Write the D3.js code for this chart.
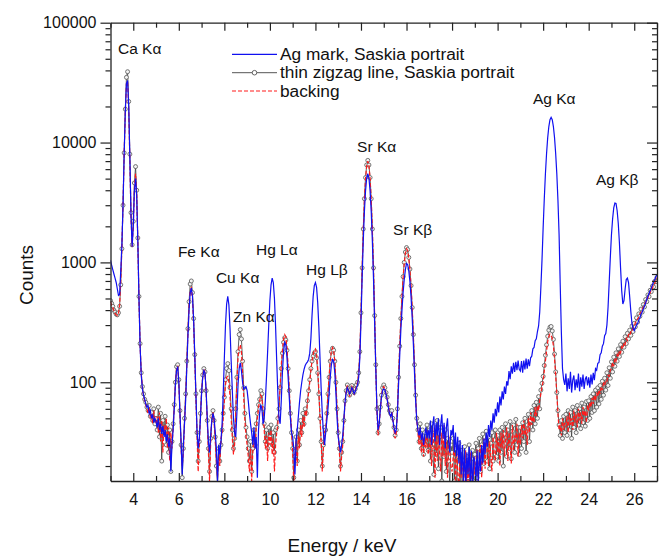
<!DOCTYPE html>
<html><head><meta charset="utf-8">
<script src="https://cdn.jsdelivr.net/npm/d3@7"></script>
<style>body{margin:0;background:#fff}svg{display:block}text{font-family:"Liberation Sans",Arial,Helvetica,sans-serif}</style>
</head><body>
<svg id="chart" width="659" height="556"></svg>
<script>
// ---------- data (channel grid: 3.00 keV, step 0.05 keV) ----------
const energyStart = 3, energyStep = 0.05;

const agMark = [
1040,950,870,800,740,680,600,530,540,850,1400,3000,8000,18000,31000,33000,20000,7500,2500,1350,
2000,4000,5000,3600,1500,500,200,115,88,78,72,66,62,64,55,58,50,54,46,50,
47,42,50,40,45,37,43,35,40,32,37,29,34,18,30,40,60,95,125,135,
100,55,32,17,30,45,70,130,240,400,560,610,520,330,170,80,40,28,34,50,
80,110,125,120,85,50,32,26,36,48,55,50,38,28,15,30,25,32,45,80,
160,300,450,520,440,280,150,85,50,38,35,55,95,130,145,125,100,88,90,92,
85,70,55,45,38,30,42,28,35,16,40,55,65,60,45,50,70,110,180,300,
480,650,740,680,500,290,150,80,50,45,70,120,180,215,205,160,110,75,50,38,
35,28,17,32,40,52,68,85,100,115,128,138,144,148,155,175,230,360,520,640,
680,620,460,290,160,90,55,38,30,38,48,60,80,110,140,155,150,120,80,50,
35,30,26,30,36,50,68,82,90,86,80,84,90,86,80,84,90,95,110,160,
320,730,1500,2650,3950,5050,5500,5050,3950,2650,1500,730,310,130,60,40,45,60,75,85,
88,86,80,72,62,55,52,55,48,42,38,40,55,95,165,270,400,560,720,870,
980,960,850,690,510,340,210,120,70,48,40,36,42,33,38,30,36,42,34,40,
34,48,30,44,52,32,46,36,50,30,44,54,34,46,28,42,50,32,26,40,
36,44,26,38,24,35,21,33,17,30,15,28,13,26,17,29,14,27,12,24,
22,15,27,14,26,18,30,21,34,25,38,29,44,35,48,40,55,46,60,52,
68,56,76,64,84,72,92,80,102,94,124,106,136,118,145,122,148,126,152,128,
124,150,120,152,128,158,130,155,136,160,165,190,195,222,230,265,295,385,620,1050,
1950,3400,5500,8100,11000,13600,15500,16200,15500,13600,11000,8100,5500,3300,1700,650,260,130,105,95,
118,84,108,88,122,82,104,114,86,106,90,118,84,110,92,116,88,106,112,94,
110,90,116,96,120,104,130,126,144,146,170,176,200,210,245,255,300,420,680,1100,
1700,2300,2850,3130,3100,2700,2100,1450,900,580,450,480,600,720,740,680,520,390,310,280,
270,285,300,310,330,345,370,385,410,430,460,490,520,550,580,610,650,690,720,760,
790];

const zigzag = [
480,455,430,400,385,370,365,380,430,650,1300,3000,8200,19000,35000,39000,22000,8000,2600,1400,
2200,4600,6300,4000,1600,520,210,120,92,80,72,68,62,58,64,52,56,48,60,45,
50,40,62,35,55,22,48,38,52,30,44,26,40,18,32,45,65,100,135,140,
105,58,30,16,28,50,80,150,280,470,660,700,560,340,170,80,38,22,32,55,
85,115,130,122,85,48,28,18,34,52,58,48,35,20,14,28,22,30,40,55,
75,105,130,143,125,90,60,40,28,34,60,110,180,250,275,230,150,90,55,42,
35,28,22,32,18,28,40,30,45,55,65,72,85,80,60,45,32,40,28,42,
35,44,30,38,26,40,42,50,60,90,130,175,215,235,225,185,130,85,55,38,
28,16,24,35,22,40,30,48,38,55,45,60,55,70,85,105,130,150,165,175,
180,160,120,80,50,32,20,30,42,40,55,80,110,150,180,192,185,150,100,60,
38,28,20,26,32,48,70,85,95,88,78,86,94,88,82,88,95,100,120,180,
380,900,1900,3400,5100,6500,7100,6500,5100,3400,1900,900,360,140,60,38,45,62,78,90,
95,90,82,75,65,58,55,58,50,42,36,40,60,110,200,340,520,760,1000,1220,
1330,1280,1100,880,640,420,250,140,78,50,40,32,45,28,40,25,38,30,44,27,
40,22,45,28,17,38,25,48,19,35,42,15,33,24,40,18,34,22,14,30,
26,34,15,28,12,24,31,14,27,11,22,29,13,24,16,30,12,23,27,15,
25,31,16,28,34,18,30,37,21,32,39,22,35,19,31,38,22,33,40,24,
36,22,40,26,42,20,37,45,24,40,28,47,23,39,44,26,49,30,42,25,
42,28,46,32,50,26,44,54,32,48,58,40,64,45,68,50,76,60,86,98,
112,138,168,205,242,272,288,292,268,228,172,122,82,58,44,36,48,34,52,38,
54,36,58,40,56,34,62,42,58,38,64,44,60,41,67,46,62,43,69,48,
70,50,76,56,80,58,86,62,90,66,94,72,102,78,108,86,120,94,132,108,
148,122,162,136,176,150,190,164,206,178,220,196,240,210,256,230,272,246,294,265,
310,290,345,318,372,355,408,385,445,425,490,470,535,518,585,570,635,625,695,690,
750];

const backing = [
470,440,420,395,375,365,360,375,440,700,1350,3100,8000,18000,31000,32500,19000,7000,2400,1350,
2000,4200,5500,3700,1500,500,205,118,90,78,70,65,60,55,62,50,54,45,58,48,
46,52,38,56,32,48,26,44,35,50,28,42,22,38,28,42,62,98,130,135,
100,55,28,20,26,46,76,140,260,430,580,610,500,310,160,75,36,18,30,52,
82,112,128,120,82,46,26,15,32,50,56,46,32,22,16,26,20,34,38,50,
70,95,110,112,100,75,50,34,25,30,55,100,160,200,205,180,120,75,48,36,
30,24,18,28,15,26,36,28,42,50,62,70,78,74,55,40,28,36,22,38,
30,40,25,34,18,30,38,45,65,95,140,185,230,250,240,195,135,88,56,40,
26,14,22,32,20,36,28,44,35,52,42,58,52,68,82,100,125,150,170,185,
190,170,130,85,52,32,18,28,38,40,55,82,112,152,182,195,185,150,100,60,
38,26,18,24,30,46,68,84,94,86,76,84,92,86,80,86,94,100,118,175,
370,880,1850,3300,5000,6400,7000,6400,5000,3300,1850,880,350,135,58,36,44,60,76,88,
92,88,80,72,64,56,52,56,48,40,34,38,58,108,195,330,510,740,980,1200,
1300,1260,1080,860,630,410,245,135,75,48,38,30,42,26,36,24,35,28,40,25,
28,35,20,42,30,16,44,22,36,26,18,38,24,44,20,32,16,36,26,20,
18,24,30,14,26,18,12,28,16,24,14,20,27,12,22,14,26,17,13,24,
17,22,28,15,25,30,16,27,34,19,29,36,20,32,24,18,35,26,22,38,
26,34,20,38,28,40,24,33,42,22,38,30,21,44,27,36,32,45,24,38,
30,44,34,48,36,42,30,50,38,56,44,52,46,62,52,64,58,72,80,92,
102,124,150,182,218,242,252,246,232,202,158,115,80,54,40,44,36,50,40,46,
42,52,38,56,44,50,40,58,46,54,42,60,48,56,45,62,52,58,46,64,
58,68,62,74,66,78,70,82,76,86,80,92,86,98,94,104,102,114,112,126,
130,146,136,158,150,170,162,184,176,198,190,214,206,232,224,250,244,264,262,286,
290,316,322,338,348,376,382,410,418,452,460,500,505,548,555,600,605,660,665,720,
745];

const seriesNames = ["Ag mark, Saskia portrait", "thin zigzag line, Saskia portrait", "backing"];
const xTickValues = [4,6,8,10,12,14,16,18,20,22,24,26];
const yTickValues = [100,1000,10000,100000];
const labelNames = ["Ca K","Fe K","Cu K","Zn K","Hg L","Hg L","Sr K","Sr K","Ag K","Ag K"];
const labelGreek = ["α","α","α","α","α","β","α","β","α","β"];
const labelEnergy = [3.33,5.96,7.63,8.38,9.39,11.59,13.83,15.41,21.55,24.32];
const labelCounts = [54800,1110,673,318,1153,786,8340,1690,21000,4430];

// ---------- chart ----------
const svg = d3.select("#chart");
const X0 = 110.5, X1 = 657, Y0 = 481, Y1 = 22.7;
const x = d3.scaleLinear().domain([3,27]).range([X0,X1]);
const y = d3.scaleLog().domain([15,100000]).range([Y0,Y1]);

const energies = d3.range(agMark.length).map(i => energyStart + i*energyStep);
const toPts = arr => arr.map((v,i) => ({e: energies[i], v}));
const blueData = toPts(agMark), blackData = toPts(zigzag), redData = toPts(backing);

svg.append("defs").append("clipPath").attr("id","plotclip")
  .append("rect").attr("x",X0).attr("y",Y1).attr("width",X1-X0).attr("height",Y0-Y1);

const line = d3.line().x(d => x(d.e)).y(d => y(Math.max(d.v,1)));
const plot = svg.append("g").attr("clip-path","url(#plotclip)");

plot.append("path").datum(blackData).attr("d",line)
  .attr("fill","none").attr("stroke","#3a3a3a").attr("stroke-width",0.8);
plot.append("g").selectAll("circle").data(blackData).join("circle")
  .attr("cx",d=>x(d.e)).attr("cy",d=>y(Math.max(d.v,1))).attr("r",2)
  .attr("fill","#f4f4f4").attr("stroke","#555").attr("stroke-width",0.8);
plot.append("path").datum(redData).attr("d",line)
  .attr("fill","none").attr("stroke","#ff1a1a").attr("stroke-width",1.2).attr("stroke-dasharray","4,2");
plot.append("path").datum(blueData).attr("d",line)
  .attr("fill","none").attr("stroke","#1010f0").attr("stroke-width",1.2);

// ---------- axes ----------
const xAll = d3.range(3,28);
const yAll = [];
[10,100,1000,10000].forEach(dec => { for (let k=1;k<10;k++){ const v=dec*k; if (v>=15) yAll.push(v);} });
yAll.push(100000);
const isMajorX = d => xTickValues.includes(d);
const isMajorY = d => yTickValues.includes(d);

function styleAxis(g){
  g.select(".domain").attr("stroke","#222").attr("stroke-width",1.3);
  g.selectAll(".tick line").attr("stroke","#222").attr("stroke-width",1.2);
  g.selectAll("text").attr("fill","#111").style("font-size","16px")
    .style("font-family",'"Liberation Sans",Arial,sans-serif');
}

const gB = svg.append("g").attr("transform",`translate(0,${Y0})`)
  .call(d3.axisBottom(x).tickValues(xAll).tickSizeInner(-8).tickSizeOuter(0)
    .tickFormat(d => isMajorX(d) ? d : ""));
gB.selectAll(".tick").filter(d=>!isMajorX(d)).select("line").attr("y2",-5);
gB.selectAll(".tick text").attr("y",24).attr("dy",null);
styleAxis(gB);

const gT = svg.append("g").attr("transform",`translate(0,${Y1})`)
  .call(d3.axisTop(x).tickValues(xAll).tickSizeInner(-8).tickSizeOuter(0).tickFormat(""));
gT.selectAll(".tick").filter(d=>!isMajorX(d)).select("line").attr("y2",5);
styleAxis(gT);

const gL = svg.append("g").attr("transform",`translate(${X0},0)`)
  .call(d3.axisLeft(y).tickValues(yAll).tickSizeInner(10).tickSizeOuter(0).tickPadding(4)
    .tickFormat(d => isMajorY(d) ? d : ""));
gL.selectAll(".tick").filter(d=>!isMajorY(d)).select("line").attr("x2",-5);
styleAxis(gL);

const gR = svg.append("g").attr("transform",`translate(${X1},0)`)
  .call(d3.axisRight(y).tickValues(yAll).tickSizeInner(-10).tickSizeOuter(0).tickFormat(""));
gR.selectAll(".tick").filter(d=>!isMajorY(d)).select("line").attr("x2",-5);
styleAxis(gR);

// axis titles
svg.append("text").attr("x",342).attr("y",552).attr("text-anchor","middle")
  .style("font-size","19px").attr("fill","#111").text("Energy / keV");
svg.append("text").attr("transform","translate(33,275) rotate(-90)").attr("text-anchor","middle")
  .style("font-size","19px").attr("fill","#111").text("Counts");

// peak labels
labelNames.forEach((n,i) => {
  const t = svg.append("text").attr("x",x(labelEnergy[i])).attr("y",y(labelCounts[i]))
    .style("font-size","15.5px").attr("fill","#111");
  t.append("tspan").text(n);
  t.append("tspan").text(labelGreek[i]);
});

// legend
const lg = svg.append("g");
const rowsY = [54.3,72.7,91];
lg.append("line").attr("x1",232).attr("x2",277).attr("y1",rowsY[0]).attr("y2",rowsY[0])
  .attr("stroke","#1010f0").attr("stroke-width",1.3);
lg.append("line").attr("x1",232).attr("x2",277).attr("y1",rowsY[1]).attr("y2",rowsY[1])
  .attr("stroke","#555").attr("stroke-width",1);
lg.append("circle").attr("cx",254.5).attr("cy",rowsY[1]).attr("r",2.3)
  .attr("fill","#fff").attr("stroke","#555").attr("stroke-width",0.9);
lg.append("line").attr("x1",232).attr("x2",277).attr("y1",rowsY[2]).attr("y2",rowsY[2])
  .attr("stroke","#ff1a1a").attr("stroke-width",1.2).attr("stroke-dasharray","4,2");
seriesNames.forEach((s,i) => {
  lg.append("text").attr("x",280).attr("y",rowsY[i]+5.5).style("font-size","17.3px")
    .attr("fill","#111").text(s);
});
</script>
</body></html>
